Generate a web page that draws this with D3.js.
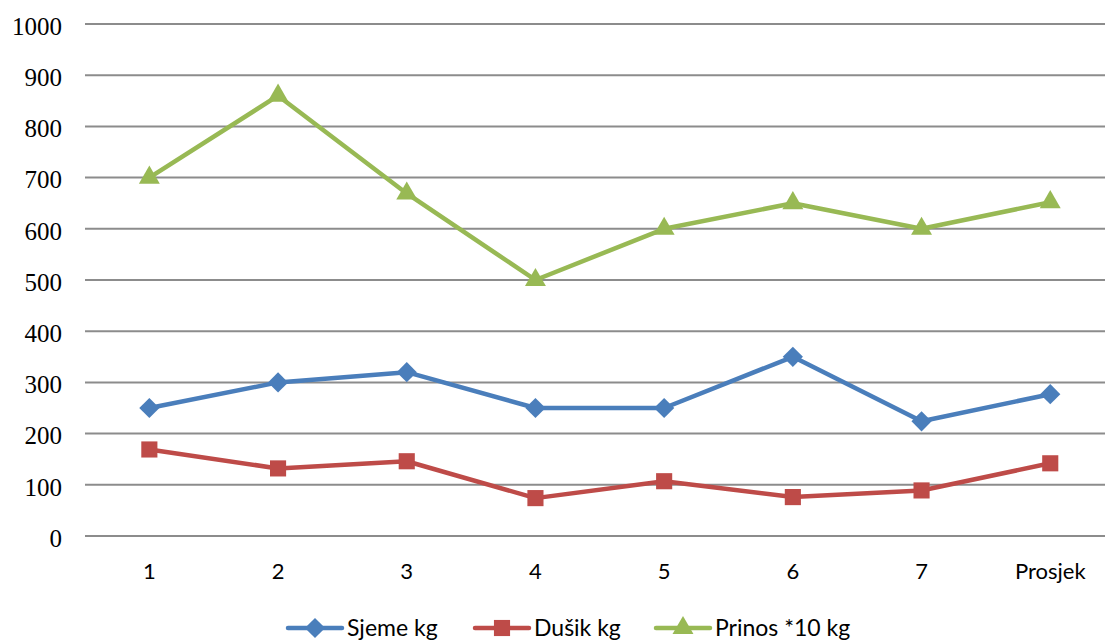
<!DOCTYPE html>
<html>
<head>
<meta charset="utf-8">
<script src="https://cdn.jsdelivr.net/npm/d3@7"></script>
<style>
  body { margin: 0; background: #fff; overflow: hidden; }
  svg { display: block; }
  .ylab { font-family: "Liberation Serif", "Times New Roman", serif; }
  .cat { font-family: Lato, "Open Sans", sans-serif; }
</style>
</head>
<body>
<div id="chart"></div>
<script>
const categories = ["1", "2", "3", "4", "5", "6", "7", "Prosjek"];
const sjeme = [250, 300, 320, 250, 250, 350, 224, 277];
const dusik = [169, 132, 146, 74, 107, 76, 89, 142];
const prinos = [700, 860, 669, 500, 600, 650, 600, 652];
const yTicks = [0, 100, 200, 300, 400, 500, 600, 700, 800, 900, 1000];

const series = [
    {name: "Sjeme kg", values: sjeme, color: "#4A7EBB", marker: d3.symbolDiamond2},
    {name: "Dušik kg", values: dusik, color: "#BE4B48", marker: d3.symbolSquare},
    {name: "Prinos *10 kg", values: prinos, color: "#98B954", marker: d3.symbolTriangle}
];

const W = 1105, H = 640;
const margin = {top: 24, left: 85, bottom: 104};
// plot area runs a little past the right edge of the window, like the original
const width = 8 * 128.7;
const height = H - margin.top - margin.bottom;

const svg = d3.select("#chart").append("svg")
    .attr("width", W).attr("height", H);
const g = svg.append("g")
    .attr("transform", `translate(${margin.left},${margin.top})`);

const x = d3.scaleBand().domain(categories).range([0, width]);
const y = d3.scaleLinear().domain([0, 1000]).range([height, 0]);

// grid lines
g.append("g").selectAll("line").data(yTicks).join("line")
    .attr("x1", 0).attr("x2", width)
    .attr("y1", d => y(d)).attr("y2", d => y(d))
    .attr("stroke", "#8c8c8c").attr("stroke-width", 2);

// y labels
g.append("g").selectAll("text").data(yTicks).join("text")
    .attr("class", "ylab")
    .attr("x", -23).attr("y", d => y(d) + 2)
    .attr("dy", "0.35em")
    .attr("text-anchor", "end")
    .attr("font-size", 25)
    .text(d => d);

// x labels
g.append("g").selectAll("text").data(categories).join("text")
    .attr("class", "cat")
    .attr("x", d => x(d) + x.bandwidth() / 2)
    .attr("y", height + 43)
    .attr("text-anchor", "middle")
    .attr("font-size", 22)
    .text(d => d);

const line = d3.line()
    .x((d, i) => x(categories[i]) + x.bandwidth() / 2)
    .y(d => y(d));

series.forEach(s => {
    g.append("path")
        .datum(s.values)
        .attr("d", line)
        .attr("fill", "none")
        .attr("stroke", s.color)
        .attr("stroke-width", 4.5)
        .attr("stroke-linejoin", "round");

    const sym = d3.symbol().type(s.marker).size(s.marker === d3.symbolTriangle ? 190 : 260);
    g.append("g").selectAll("path").data(s.values).join("path")
        .attr("transform", (d, i) => `translate(${x(categories[i]) + x.bandwidth() / 2},${y(d)})`)
        .attr("d", sym)
        .attr("fill", s.color);
});

// legend
const legendX = [288, 475, 656];
const legend = svg.append("g").attr("transform", `translate(0, 628)`);
series.forEach((s, i) => {
    const lg = legend.append("g").attr("transform", `translate(${legendX[i]},0)`);
    lg.append("line")
        .attr("x1", 0).attr("x2", 54)
        .attr("stroke", s.color).attr("stroke-width", 4.5)
        .attr("stroke-linecap", "round");
    lg.append("path")
        .attr("transform", "translate(27,0)")
        .attr("d", d3.symbol().type(s.marker).size(s.marker === d3.symbolTriangle ? 190 : 260))
        .attr("fill", s.color);
    lg.append("text")
        .attr("class", "cat")
        .attr("x", 59).attr("dy", "0.35em")
        .attr("font-size", 23)
        .text(s.name);
});
</script>
</body>
</html>
